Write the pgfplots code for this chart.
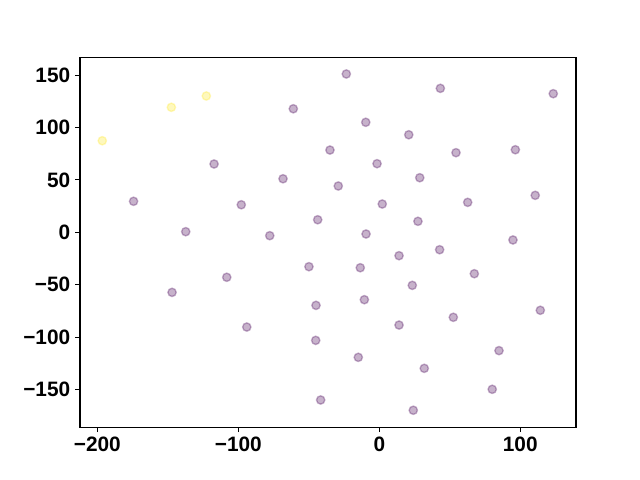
\documentclass[border=0pt]{standalone}
\usepackage{pgfplots}
\pgfplotsset{compat=1.18}
\usepackage{fontspec}
\setmainfont{Liberation Sans}
\definecolor{vpurple}{HTML}{440154}
\definecolor{vyellow}{HTML}{FDE725}
\begin{document}
\begin{tikzpicture}
\begin{axis}[
  name=ax,
  scale only axis,
  width=357.1pt, height=266.1pt,
  xmin=-212.3, xmax=139.5,
  ymin=-186, ymax=166.7,
  axis line style={line width=0.8pt},
  tick align=outside,
  tick style={line width=0.8pt, black},
  major tick length=3.5pt,
  xtick={-200,-100,0,100},
  xticklabels={−200,−100,0,100},
  ytick={-150,-100,-50,0,50,100,150},
  yticklabels={−150,−100,−50,0,50,100,150},
  xtick pos=bottom, ytick pos=left,
  ticklabel style={font=\fontsize{15}{18}\selectfont\bfseries},
  clip=false,
]
\addplot[only marks, mark=*, mark size=3pt,
  mark options={line width=1pt, draw=vpurple, fill=vpurple, draw opacity=0.3, fill opacity=0.3}]
coordinates {
(-61.0,117.9) (-117.2,65.2) (-68.3,51.1) (-174.3,29.6) (-97.9,26.3)
(-43.7,12.0) (-137.3,0.6) (-77.7,-3.2) (-23.4,151.1) (43.3,137.4)
(123.4,132.3) (-9.6,105.0) (20.9,93.1) (-35.0,78.5) (54.4,76.0)
(96.5,78.8) (-1.6,65.5) (28.7,52.1) (-29.1,44.2) (2.1,27.0)
(62.7,28.6) (110.6,35.3) (27.4,10.5) (-9.4,-1.6) (94.8,-7.3)
(-147.0,-57.3) (-108.2,-42.9) (-49.9,-32.8) (-44.9,-69.7) (-94.0,-90.4)
(-45.1,-103.1) (-41.6,-160.0) (-13.5,-33.8) (14.0,-22.3) (42.8,-16.6)
(67.4,-39.5) (23.4,-50.6) (-10.6,-64.3) (114.2,-74.4) (52.5,-81.1)
(14.0,-88.5) (84.9,-112.9) (-14.9,-119.3) (31.9,-129.8) (80.1,-149.8)
(24.1,-169.8)
};
\addplot[only marks, mark=*, mark size=3pt,
  mark options={line width=1pt, draw=vyellow, fill=vyellow, draw opacity=0.3, fill opacity=0.3}]
coordinates {
(-196.5,87.4) (-147.5,119.3) (-122.7,130.1)
};
\end{axis}
\useasboundingbox ([xshift=-57.6pt,yshift=-38pt]ax.south west) rectangle ([xshift=46.1pt,yshift=41.5pt]ax.north east);
\end{tikzpicture}
\end{document}
